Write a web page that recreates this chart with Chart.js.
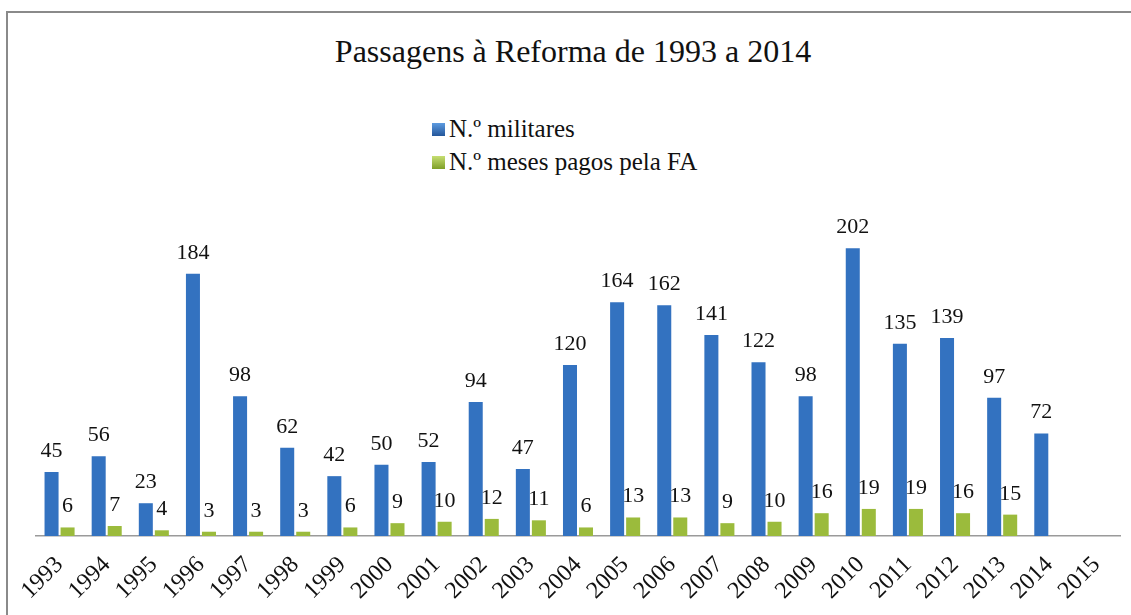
<!DOCTYPE html>
<html>
<head>
<meta charset="utf-8">
<script src="https://cdn.jsdelivr.net/npm/chart.js@4/dist/chart.umd.min.js"></script>
<style>
  html, body { margin: 0; padding: 0; background: #fff; overflow: hidden; }
  #wrap { position: relative; width: 1131px; height: 615px; }
  #frame { position: absolute; left: 6px; top: 11px; width: 1200px; height: 700px;
           border: 2px solid #8a8a8a; box-sizing: border-box; }
  #title { position: absolute; left: 0; width: 1146px; top: 35px; text-align: center;
           font: 32px "Times New Roman", "Liberation Serif", serif; line-height: 32px; color: #111; }
  .leg { position: absolute; left: 432px; font: 25px "Times New Roman", "Liberation Serif", serif; line-height: 25px; color: #111; }
  .leg i { position: absolute; left: 0; top: 7px; width: 13px; height: 13px; }
  .leg span { position: absolute; left: 17px; top: 0; white-space: nowrap; }
  canvas { position: absolute; left: 0; top: 0; }
</style>
</head>
<body>
<div id="wrap">
  <div id="frame"></div>
  <div id="title">Passagens à Reforma de 1993 a 2014</div>
  <div class="leg" style="top:116px"><i style="background:linear-gradient(#5d9be0,#24569a)"></i><span>N.º militares</span></div>
  <div class="leg" style="top:149px"><i style="background:linear-gradient(#c6de72,#7f9f27)"></i><span>N.º meses pagos pela FA</span></div>
  <canvas id="chart" width="1131" height="615"></canvas>
</div>
<script>
// dados
const anos = ['1993','1994','1995','1996','1997','1998','1999','2000','2001','2002','2003',
              '2004','2005','2006','2007','2008','2009','2010','2011','2012','2013','2014','2015'];
const militares = [45, 56, 23, 184, 98, 62, 42, 50, 52, 94, 47, 120, 164, 162, 141, 122, 98, 202, 135, 139, 97, 72, null];
const mesesPagos = [6, 7, 4, 3, 3, 3, 6, 9, 10, 12, 11, 6, 13, 13, 9, 10, 16, 19, 19, 16, 15, null, null];

const serif = '"Times New Roman", "Liberation Serif", serif';

// gradiente horizontal tipo "cilindro"
function cylinder(dark, mid, light) {
    return (ctx) => {
        const chart = ctx.chart;
        const el = ctx.element;
        if (!chart.chartArea || !el || !el.width) return mid;
        const x0 = el.x - el.width / 2, x1 = el.x + el.width / 2;
        const g = chart.ctx.createLinearGradient(x0, 0, x1, 0);
        g.addColorStop(0, dark);
        g.addColorStop(0.45, light);
        g.addColorStop(1, dark);
        return g;
    };
}

// rótulos de valor por cima das barras
const valueLabels = {
    id: 'valueLabels',
    afterDatasetsDraw(chart) {
        const c = chart.ctx;
        c.save();
        c.font = '22px ' + serif;
        c.fillStyle = '#111';
        c.textAlign = 'center';
        c.textBaseline = 'alphabetic';
        chart.data.datasets.forEach((ds, i) => {
            chart.getDatasetMeta(i).data.forEach((bar, j) => {
                const v = ds.data[j];
                if (v == null) return;
                c.fillText(v, bar.x, bar.y - 15);
            });
        });
        c.restore();
    }
};

new Chart(document.getElementById('chart'), {
    type: 'bar',
    data: {
        labels: anos,
        datasets: [
            { label: 'N.º militares', data: militares,
              backgroundColor: cylinder('#1d4a86', '#3372c0', '#5b98de') },
            { label: 'N.º meses pagos pela FA', data: mesesPagos,
              backgroundColor: cylinder('#6f8d1e', '#9bbb3c', '#c8e07a') }
        ]
    },
    options: {
        responsive: false,
        animation: false,
        categoryPercentage: 0.68,
        barPercentage: 0.875,
        layout: { padding: { left: 36, right: 11, top: 194, bottom: 0 } },
        plugins: { legend: { display: false }, tooltip: { enabled: false } },
        scales: {
            y: { display: false, min: 0, max: 240 },
            x: {
                grid: { display: false, drawTicks: false },
                border: { display: true, color: '#9a9a9a', width: 1.5 },
                ticks: { color: '#111', font: { family: serif, size: 24 },
                         maxRotation: 45, minRotation: 45, padding: 15, autoSkip: false },
                afterFit: s => { s.height = 79; s.paddingLeft = 0; s.paddingRight = 0; }
            }
        }
    },
    plugins: [valueLabels]
});
</script>
</body>
</html>
